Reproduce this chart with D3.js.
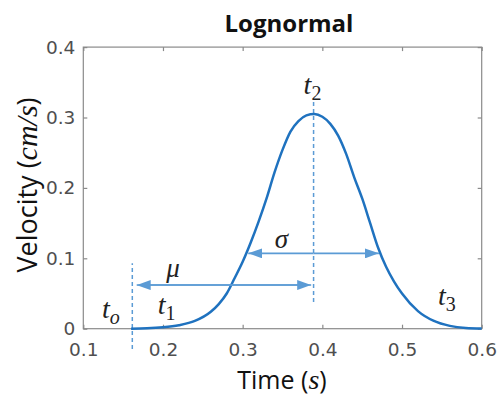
<!DOCTYPE html>
<html>
<head>
<meta charset="utf-8">
<script src="https://cdn.jsdelivr.net/npm/d3@7"></script>
<style>
  body { margin: 0; background: #fff; }
  svg { display: block; }
</style>
</head>
<body>
<svg id="chart" width="501" height="402"></svg>
<script>
// velocity profile (time in s, velocity in cm/s)
const times = [0.16, 0.18, 0.20, 0.22, 0.24, 0.26, 0.27, 0.28, 0.29, 0.30, 0.31, 0.32, 0.33, 0.34, 0.35,
  0.36, 0.37, 0.38, 0.39, 0.40, 0.41, 0.42, 0.43, 0.44, 0.45, 0.46, 0.47, 0.48, 0.49, 0.50,
  0.52, 0.54, 0.56, 0.58, 0.60];
const velocities = [0, 0.0005, 0.002, 0.005, 0.011, 0.024, 0.035, 0.050, 0.072, 0.095, 0.122, 0.152, 0.185, 0.222, 0.254,
  0.280, 0.295, 0.303, 0.305, 0.301, 0.291, 0.274, 0.248, 0.215, 0.185, 0.150, 0.115, 0.088, 0.067, 0.050,
  0.025, 0.011, 0.004, 0.001, 0.0002];

const xTicks = [0.1, 0.2, 0.3, 0.4, 0.5, 0.6];
const yTicks = [0, 0.1, 0.2, 0.3, 0.4];

// markers (data units)
const tOnset = 0.1615;
const tPeak = 0.389;
const onsetLine = [-0.029, 0.093];
const peakLine = [0.038, 0.325];
const muArrow = { from: 0.386, to: 0.167, v: 0.062 };
const sigmaArrow = { from: 0.389, left: 0.307, right: 0.471, v: 0.107 };
const mathLabels = [
  { base: 't', sub: 'o', t: 0.1235, v: 0.015 },
  { base: 't', sub: '1', t: 0.1935, v: 0.021 },
  { base: 't', sub: '2', t: 0.3765, v: 0.334 },
  { base: 't', sub: '3', t: 0.545, v: 0.034 }
];
const greekLabels = [
  { text: 'μ', t: 0.2125, v: 0.074 },
  { text: 'σ', t: 0.3485, v: 0.115 }
];

const svg = d3.select('#chart');
const area = { left: 83.3, right: 481.7, top: 47.1, bottom: 328.7 };

const x = d3.scaleLinear().domain([0.1, 0.6]).range([area.left, area.right]);
const y = d3.scaleLinear().domain([0, 0.4]).range([area.bottom, area.top]);

const axisColor = '#8a8a8a';
const tickLabelColor = '#4f4f4f';
const curveColor = '#1f72bf';
const noteColor = '#5b9bd5';

// box
svg.append('rect')
  .attr('x', area.left)
  .attr('y', area.top)
  .attr('width', area.right - area.left)
  .attr('height', area.bottom - area.top)
  .attr('fill', 'none')
  .attr('stroke', axisColor)
  .attr('stroke-width', 1.2);

// axes with inward ticks
const styleAxis = g => {
  g.select('.domain').remove();
  g.selectAll('.tick line').attr('stroke', axisColor).attr('stroke-width', 1.2);
  g.selectAll('.tick text')
    .attr('fill', tickLabelColor)
    .style('font-family', 'DejaVu Sans, sans-serif')
    .style('font-size', '18.5px');
};
svg.append('g')
  .attr('transform', `translate(0,${area.bottom})`)
  .call(d3.axisBottom(x).tickValues(xTicks).tickFormat(d3.format('.1f')).tickSize(-4).tickPadding(14.5))
  .call(styleAxis);
svg.append('g')
  .attr('transform', `translate(0,${area.top})`)
  .call(d3.axisTop(x).tickValues(xTicks).tickFormat('').tickSize(-4))
  .call(styleAxis);
svg.append('g')
  .attr('transform', `translate(${area.left},0)`)
  .call(d3.axisLeft(y).tickValues(yTicks).tickFormat(d => d === 0 ? '0' : d3.format('.1f')(d)).tickSize(-4).tickPadding(8))
  .call(styleAxis);
svg.append('g')
  .attr('transform', `translate(${area.right},0)`)
  .call(d3.axisRight(y).tickValues(yTicks).tickFormat('').tickSize(-4))
  .call(styleAxis);

// dashed guide lines
svg.append('line')
  .attr('x1', x(tOnset)).attr('x2', x(tOnset))
  .attr('y1', y(onsetLine[0])).attr('y2', y(onsetLine[1]))
  .attr('stroke', noteColor).attr('stroke-width', 1.5).attr('stroke-dasharray', '4,3');
svg.append('line')
  .attr('x1', x(tPeak)).attr('x2', x(tPeak))
  .attr('y1', y(peakLine[0])).attr('y2', y(peakLine[1]))
  .attr('stroke', noteColor).attr('stroke-width', 1.5).attr('stroke-dasharray', '4,3');

// curve
svg.append('path')
  .datum(times.map((t, i) => [t, velocities[i]]))
  .attr('fill', 'none')
  .attr('stroke', curveColor)
  .attr('stroke-width', 2.5)
  .attr('stroke-linejoin', 'round')
  .attr('d', d3.line()
    .x(d => x(d[0]))
    .y(d => y(d[1]))
    .curve(d3.curveMonotoneX));

// arrow heads
svg.append('defs').append('marker')
  .attr('id', 'head')
  .attr('viewBox', '0 0 14 10')
  .attr('refX', 14).attr('refY', 5)
  .attr('markerWidth', 14).attr('markerHeight', 10)
  .attr('markerUnits', 'userSpaceOnUse')
  .attr('orient', 'auto')
  .append('path')
  .attr('d', 'M0,0 L14,5 L0,10 Z')
  .attr('fill', noteColor);

const arrow = (t1, t2, v) => svg.append('line')
  .attr('x1', x(t1)).attr('x2', x(t2))
  .attr('y1', y(v)).attr('y2', y(v))
  .attr('stroke', noteColor)
  .attr('stroke-width', 1.6)
  .attr('marker-end', 'url(#head)');

// mu: double-headed
arrow(muArrow.from - 0.01, muArrow.to, muArrow.v);
arrow(muArrow.to + 0.01, muArrow.from, muArrow.v);
// sigma: from peak line to both sides
arrow(sigmaArrow.from, sigmaArrow.left, sigmaArrow.v);
arrow(sigmaArrow.from, sigmaArrow.right, sigmaArrow.v);

// math labels
const mathFont = 'Liberation Serif, DejaVu Serif, serif';
for (const lab of mathLabels) {
  const txt = svg.append('text')
    .attr('x', x(lab.t))
    .attr('y', y(lab.v))
    .style('font-family', mathFont)
    .style('font-size', '28px')
    .attr('fill', '#222');
  txt.append('tspan').style('font-style', 'italic').text(lab.base);
  txt.append('tspan')
    .attr('dy', 6)
    .style('font-size', '20px')
    .style('font-style', lab.sub === 'o' ? 'italic' : 'normal')
    .text(lab.sub);
}
for (const lab of greekLabels) {
  svg.append('text')
    .attr('x', x(lab.t))
    .attr('y', y(lab.v))
    .attr('text-anchor', 'middle')
    .style('font-family', mathFont)
    .style('font-style', 'italic')
    .style('font-size', '27px')
    .attr('fill', '#222')
    .text(lab.text);
}

// title
svg.append('text')
  .attr('x', 289)
  .attr('y', 32)
  .attr('text-anchor', 'middle')
  .style('font-family', 'Open Sans, sans-serif')
  .style('font-weight', 'bold')
  .style('font-size', '24px')
  .attr('fill', '#111')
  .text('Lognormal');

// x label
const xl = svg.append('text')
  .attr('x', 282)
  .attr('y', 389)
  .attr('text-anchor', 'middle')
  .style('font-family', 'Open Sans, sans-serif')
  .style('font-size', '25px')
  .attr('fill', '#111');
xl.append('tspan').text('Time (');
xl.append('tspan').style('font-family', mathFont).style('font-style', 'italic').style('font-size', '28px').text('s');
xl.append('tspan').text(')');

// y label
const yl = svg.append('text')
  .attr('transform', 'translate(37,185) rotate(-90)')
  .attr('text-anchor', 'middle')
  .style('font-family', 'Open Sans, sans-serif')
  .style('font-size', '27px')
  .attr('fill', '#111');
yl.append('tspan').text('Velocity (');
yl.append('tspan').style('font-family', mathFont).style('font-style', 'italic').style('font-size', '30px').text('cm/s');
yl.append('tspan').text(')');
</script>
</body>
</html>
